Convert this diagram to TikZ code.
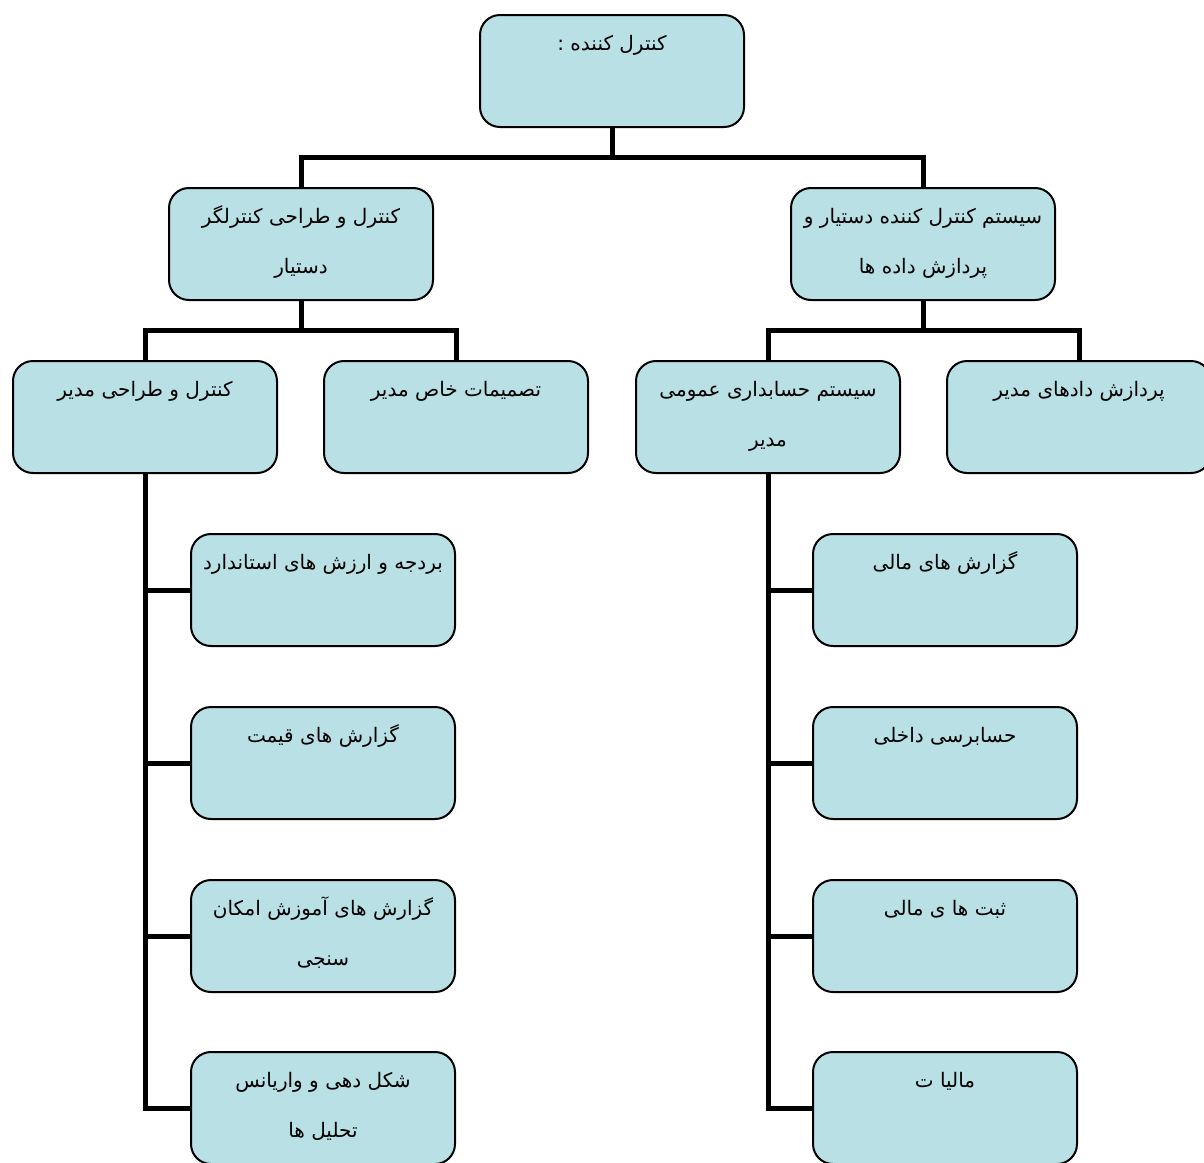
\documentclass[tikz,border=0pt]{standalone}
\usepackage{fontspec}
\TeXXeTstate=1
\newfontfamily\fa[Script=Arabic]{DejaVu Sans}
\definecolor{boxfill}{RGB}{185,224,228}
\begin{document}
\begin{tikzpicture}[x=1pt,y=-1pt,
  box/.style={draw=black, line width=2pt, fill=boxfill, rounded corners=20pt,
              minimum width=264pt, minimum height=112pt, inner sep=0pt, anchor=north west},
  txt/.style={anchor=base, align=center, inner sep=0pt, font=\fa\fontsize{20}{50}\selectfont},
  one/.style={yshift=-36pt},
  two/.style={yshift=-86pt},
  conn/.style={line width=5pt}]
\useasboundingbox (0,0) rectangle (1204,1162);
% boxes
\node[box] (top) at (479,14) {};
\node[box] (L) at (168,187) {};
\node[box] (R) at (790,187) {};
\node[box] (LL) at (12,360) {};
\node[box] (LR) at (323,360) {};
\node[box] (RL) at (635,360) {};
\node[box] (RR) at (946,360) {};
\node[box] (a1) at (190,533) {};
\node[box] (a2) at (190,706) {};
\node[box] (a3) at (190,879) {};
\node[box] (a4) at (190,1051) {};
\node[box] (b1) at (812,533) {};
\node[box] (b2) at (812,706) {};
\node[box] (b3) at (812,879) {};
\node[box] (b4) at (812,1051) {};
% texts
\node[txt,one] (ttop) at (top.north) {\beginR کنترل کننده :\endR};
\node[txt,two] (tL) at (L.north) {\beginR کنترل و طراحی کنترلگر\endR\\\beginR دستیار\endR};
\node[txt,two] (tR) at (R.north) {\beginR سیستم کنترل کننده دستیار و\endR\\\beginR پردازش داده ها\endR};
\node[txt,one] (tLL) at (LL.north) {\beginR کنترل و طراحی مدیر\endR};
\node[txt,one] (tLR) at (LR.north) {\beginR تصمیمات خاص مدیر\endR};
\node[txt,two] (tRL) at (RL.north) {\beginR سیستم حسابداری عمومی\endR\\\beginR مدیر\endR};
\node[txt,one] (tRR) at (RR.north) {\beginR پردازش دادهای مدیر\endR};
\node[txt,one] (ta1) at (a1.north) {\beginR بردجه و ارزش های استاندارد\endR};
\node[txt,one] (ta2) at (a2.north) {\beginR گزارش های قیمت\endR};
\node[txt,two] (ta3) at (a3.north) {\beginR گزارش های آموزش امکان\endR\\\beginR سنجی\endR};
\node[txt,two] (ta4) at (a4.north) {\beginR شکل دهی و واریانس\endR\\\beginR تحلیل ها\endR};
\node[txt,one] (tb1) at (b1.north) {\beginR گزارش های مالی\endR};
\node[txt,one] (tb2) at (b2.north) {\beginR حسابرسی داخلی\endR};
\node[txt,one] (tb3) at (b3.north) {\beginR ثبت ها ی مالی\endR};
\node[txt,one] (tb4) at (b4.north) {\beginR مالیا ت\endR};
% connectors
\draw[conn] (top.south) -- ++(0,29) -| (L.north);
\draw[conn] (top.south) -- ++(0,29) -| (R.north);
\draw[conn] (L.south) -- ++(0,29) -| (LL.north);
\draw[conn] (L.south) -- ++(0,29) -| (LR.north);
\draw[conn] (R.south) -- ++(0,29) -| (RL.north);
\draw[conn] (R.south) -- ++(0,29) -| (RR.north);
\foreach \n in {a1,a2,a3,a4} \draw[conn] (LL.south) |- (\n.west);
\foreach \n in {b1,b2,b3,b4} \draw[conn] (RL.south) |- (\n.west);
\end{tikzpicture}
\end{document}
